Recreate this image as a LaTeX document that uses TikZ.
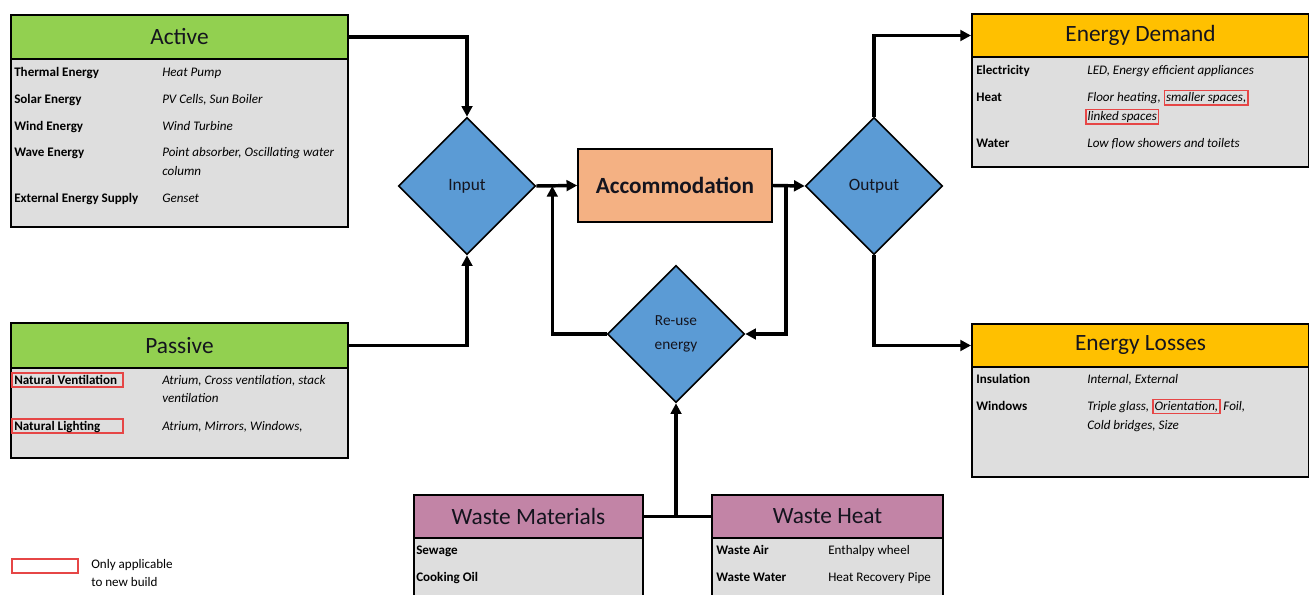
\documentclass[tikz,border=0pt]{standalone}
\usepackage{fontspec}
\setmainfont{Carlito}
\usetikzlibrary{shapes.geometric,arrows.meta,calc}
\definecolor{actgreen}{HTML}{92D050}
\definecolor{demorange}{HTML}{FFC000}
\definecolor{wastemauve}{RGB}{194,132,166}
\definecolor{bodygray}{RGB}{222,222,222}
\definecolor{diablue}{HTML}{5B9BD5}
\definecolor{accorange}{HTML}{F4B183}
\definecolor{boxred}{RGB}{230,70,70}
\definecolor{txtdark}{RGB}{20,20,30}
\newcommand\rbx[1]{{\setlength\fboxsep{0.7pt}\setlength\fboxrule{1pt}\rlap{\textcolor{boxred}{\fbox{\phantom{#1}}}}\kern1.7pt#1\kern1.7pt}}
\begin{document}
\begin{tikzpicture}[x=0.75pt,y=-0.75pt,
  hdr/.style={draw=black, line width=1.5pt, minimum width=252.75pt, minimum height=33pt, anchor=north west, inner sep=0pt, font=\fontsize{17.5}{20}\selectfont, text=txtdark},
  bdy/.style={draw=black, line width=1.5pt, fill=bodygray, anchor=north west, minimum width=252.75pt, inner sep=0pt},
  lbl/.style={anchor=mid west, inner sep=0pt, font=\fontsize{9.8}{12}\selectfont\bfseries},
  val/.style={anchor=mid west, inner sep=0pt, font=\fontsize{9.8}{12}\selectfont\itshape},
  rval/.style={anchor=mid west, inner sep=0pt, font=\fontsize{9.8}{12}\selectfont},
  dia/.style={diamond, aspect=1, minimum width=102.75pt, minimum height=102.75pt, inner sep=0pt, fill=diablue, draw=black, line width=1.2pt, text=txtdark},
  conn/.style={line width=2.6pt, -{Triangle[length=8pt,width=8pt]}},
  plain/.style={line width=2.6pt},
  redbox/.style={draw=boxred, line width=0.8pt}
]
\clip (0,0) rectangle (1309,595);

% ---------- Active ----------
\node[bdy, minimum height=126pt] (activeb) at (10,58) {};
\node[hdr, fill=actgreen] (active) at (10,14) {Active};
\node[lbl] (a1) at (14,73) {Thermal Energy};
\node[val] (a1v) at (162,73) {Heat Pump};
\node[lbl] (a2) at (14,100) {Solar Energy};
\node[val] (a2v) at (162,100) {PV Cells, Sun Boiler};
\node[lbl] (a3) at (14,127) {Wind Energy};
\node[val] (a3v) at (162,127) {Wind Turbine};
\node[lbl] (a4) at (14,153) {Wave Energy};
\node[val] (a4v) at (162,153) {Point absorber, Oscillating water};
\node[val] (a4w) at (162,172) {column};
\node[lbl] (a5) at (14,199) {External Energy Supply};
\node[val] (a5v) at (162,199) {Genset};

% ---------- Passive ----------
\node[bdy, minimum height=67.5pt] (passiveb) at (10,367) {};
\node[hdr, fill=actgreen, minimum height=33.75pt] (passive) at (10,322) {Passive};
\draw[redbox] (12,373) rectangle (123,387);
\draw[redbox] (12,419) rectangle (123,433);
\node[lbl] (p1) at (14,381) {Natural Ventilation};
\node[val] (p1v) at (162,381) {Atrium, Cross ventilation, stack};
\node[val] (p1w) at (162,399) {ventilation};
\node[lbl] (p2) at (14,427) {Natural Lighting};
\node[val] (p2v) at (162,427) {Atrium, Mirrors, Windows,};

% ---------- Energy Demand ----------
\node[bdy, minimum height=82.5pt] (demandb) at (971,56) {};
\node[hdr, fill=demorange, minimum height=32.25pt] (demand) at (971,13) {Energy Demand};
\node[lbl] (d1) at (976,71) {Electricity};
\node[val] (d1v) at (1087,71) {LED, Energy efficient appliances};
\node[lbl] (d2) at (976,98) {Heat};
\node[val] (d2v) at (1087,98) {Floor heating, \rbx{smaller spaces,}};
\node[val] (d2w) at (1085,117) {\rbx{linked spaces}};
\node[lbl] (d3) at (976,144) {Water};
\node[val] (d3v) at (1087,144) {Low flow showers and toilets};

% ---------- Energy Losses ----------
\node[bdy, minimum height=82.5pt] (lossesb) at (971,366) {};
\node[hdr, fill=demorange, minimum height=32.25pt] (losses) at (971,323) {Energy Losses};
\node[lbl] (l1) at (976,380) {Insulation};
\node[val] (l1v) at (1087,380) {Internal, External};
\node[lbl] (l2) at (976,407) {Windows};
\node[val] (l2v) at (1087,407) {Triple glass, \rbx{Orientation,} Foil,};
\node[val] (l2w) at (1087,426) {Cold bridges, Size};

% ---------- Waste Materials ----------
\node[bdy, minimum width=171.75pt, minimum height=60pt] (wmb) at (413,537) {};
\node[hdr, fill=wastemauve, minimum width=171.75pt, minimum height=32.25pt] (wm) at (413,494) {Waste Materials};
\node[lbl] (w1) at (416,551) {Sewage};
\node[lbl] (w2) at (416,578) {Cooking Oil};

% ---------- Waste Heat ----------
\node[bdy, minimum width=173.25pt, minimum height=60pt] (whb) at (711,537) {};
\node[hdr, fill=wastemauve, minimum width=173.25pt, minimum height=32.25pt] (wh) at (711,494) {Waste Heat};
\node[lbl] (h1) at (716,551) {Waste Air};
\node[rval] (h1v) at (828,551) {Enthalpy wheel};
\node[lbl] (h2) at (716,578) {Waste Water};
\node[rval] (h2v) at (828,578) {Heat Recovery Pipe};

% ---------- Centre ----------
\node[dia, font=\fontsize{13}{15}\selectfont] (input) at (467,186) {Input};
\node[dia, font=\fontsize{13}{15}\selectfont] (output) at (874,186) {Output};
\node[dia, font=\fontsize{11.5}{18}\selectfont, align=center] (reuse) at (676,334) {Re-use\\energy};
\node[draw=black, line width=1.2pt, fill=accorange, minimum width=145.5pt, minimum height=54.75pt, inner sep=0pt, font=\fontsize{17.4}{20}\selectfont\bfseries, text=txtdark] (acc) at (675,185.5) {Accommodation};

% ---------- Connectors ----------
\path (input.east) ++(16,0) coordinate (j1);
\path (acc.east) ++(13,0) coordinate (j2);
\coordinate (j3) at (wm.east -| reuse.south);

\draw[conn] (active.east) -| (input.north);
\draw[conn] (passive.east) -| (input.south);
\draw[conn] (input.east) -- (acc.west);
\draw[conn] (reuse.west) -| (j1);
\draw[conn] (acc.east) -- (output.west);
\draw[conn] (j2) |- (reuse.east);
\draw[conn] (output.north) |- (demand.west);
\draw[conn] (output.south) |- (losses.west);
\draw[plain] (wm.east) -- (wh.west);
\draw[conn] (j3) -- (reuse.south);

% ---------- Legend ----------
\draw[redbox] (12,559) rectangle (78,573);
\node[rval] (leg1) at (91,565) {Only applicable};
\node[rval] (leg2) at (91,583) {to new build};
\end{tikzpicture}
\end{document}
